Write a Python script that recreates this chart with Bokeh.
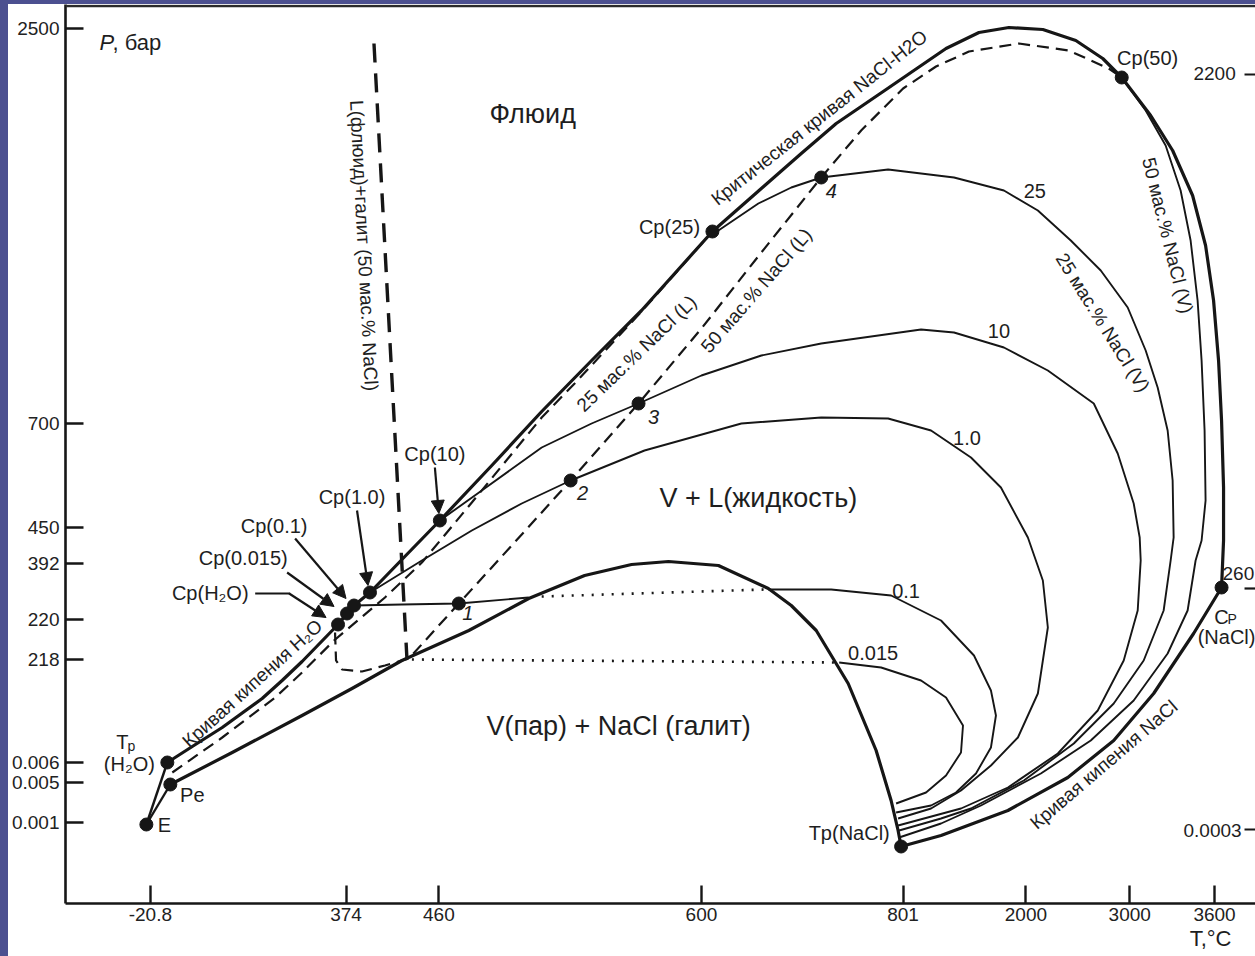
from bokeh.plotting import figure
from bokeh.models import (Range1d, FixedTicker, ColumnDataSource, Arrow, NormalHead, Span,
                          LinearAxis, Div)
from bokeh.layouts import row, column
from bokeh.core.properties import value
from bokeh.embed import file_html
from bokeh.resources import INLINE
import math

# ---------------- data (schematic diagram coordinates) ----------------
# axis ticks (schematic, non-linear axes)
x_tick_pos = [148, 344, 437, 700, 902, 1025, 1129, 1214]
x_tick_labels = ["-20.8", "374", "460", "600", "801", "2000", "3000", "3600"]
x_title_pos = [1210]
x_title = ["T,°C"]
y_tick_pos = [28, 423, 527, 563, 619, 659, 762, 782, 822]
y_tick_labels = ["2500", "700", "450", "392", "220", "218", "0.006", "0.005", "0.001"]
y2_tick_pos = [74, 588, 829]
y2_tick_labels = ["2200", "260", "0.0003"]

# invariant / critical points
pt_names = ["E", "Pe", "Tp(H2O)", "Cp(H2O)", "Cp(0.015)", "Cp(0.1)", "Cp(1.0)", "Cp(10)",
            "Cp(25)", "Cp(50)", "Cp(NaCl)", "Tp(NaCl)", "1", "2", "3", "4"]
pt_x = [144, 168, 165, 336, 345, 352, 368, 438, 711, 1121, 1221, 900, 457, 569, 637, 820]
pt_y = [824, 784, 762, 624, 613, 605, 592, 520, 231, 77, 587, 846, 603, 480, 403, 177]

# thick curves
crit_x = [336, 345, 352, 368, 400, 438, 490, 540, 590, 640, 711, 760, 800, 835, 885, 945, 978,
          1008, 1042, 1075, 1102, 1121, 1150, 1172, 1192, 1205, 1213, 1218, 1221, 1223, 1223, 1221]
crit_y = [624, 613, 605, 592, 559, 520, 465, 411, 360, 310, 231, 188, 153, 123, 89, 48, 32,
          27, 29, 40, 58, 77, 115, 150, 195, 245, 300, 360, 420, 487, 540, 587]
h2o_boil_x = [165, 190, 220, 260, 280, 300, 336]
h2o_boil_y = [762, 746, 727, 698, 680, 661, 624]
vlh_x = [168, 230, 300, 350, 400, 467, 527, 583, 630, 667, 717, 767, 790, 815, 847, 875, 890, 897, 900]
vlh_y = [784, 752, 715, 688, 660, 630, 598, 575, 564, 561, 565, 588, 605, 630, 683, 750, 800, 830, 846]
nacl_boil_x = [900, 940, 1007, 1067, 1113, 1153, 1193, 1221]
nacl_boil_y = [846, 835, 810, 777, 740, 693, 633, 587]
e_tp_x = [144, 165]
e_tp_y = [824, 762]
e_pe_x = [144, 168]
e_pe_y = [824, 784]

# isopleths (thin)
iso01_a_x = [352, 400, 457, 527]
iso01_a_y = [605, 604, 603, 597]
iso01_b_x = [767, 830, 890, 940, 973, 990, 995, 990, 975, 955, 930, 895]
iso01_b_y = [589, 589, 595, 620, 655, 690, 715, 747, 773, 792, 805, 812]
iso0015_x = [838, 880, 920, 945, 962, 960, 945, 925, 895]
iso0015_y = [662, 667, 680, 697, 725, 752, 775, 792, 803]
iso1_x = [368, 420, 470, 520, 569, 643, 740, 820, 887, 930, 970, 1000, 1027, 1042, 1047, 1037,
          1017, 990, 960, 930, 897]
iso1_y = [592, 560, 530, 503, 480, 450, 423, 417, 418, 430, 457, 487, 537, 580, 627, 693,
          737, 765, 790, 808, 818]
iso10_x = [438, 480, 540, 590, 637, 700, 760, 820, 920, 953, 1003, 1047, 1093, 1117, 1133, 1139,
           1140, 1137, 1123, 1097, 1057, 1007, 960, 897]
iso10_y = [520, 490, 447, 423, 403, 375, 355, 343, 329, 332, 347, 370, 403, 453, 503, 537,
           560, 610, 660, 710, 753, 787, 808, 825]
iso25_x = [711, 717, 757, 790, 820, 887, 953, 1003, 1037, 1070, 1100, 1127, 1145, 1157, 1167,
           1172, 1173, 1170, 1163, 1143, 1113, 1073, 1023, 970, 940, 898]
iso25_y = [231, 230, 203, 187, 177, 169, 177, 190, 210, 240, 270, 307, 350, 387, 430,
           480, 537, 560, 610, 660, 703, 743, 780, 808, 818, 830]
iso50_x = [1121, 1145, 1165, 1180, 1190, 1197, 1201, 1204, 1205, 1201, 1195, 1187, 1167, 1133,
           1090, 1040, 980, 940, 898]
iso50_y = [77, 110, 145, 190, 240, 300, 360, 430, 500, 540, 560, 610, 653, 700,
           740, 773, 805, 823, 837]

# dashed liquid isopleths and halite saturation line
l25_x = [170, 220, 273, 300, 332, 383, 420, 470, 540, 573, 640, 703, 711]
l25_y = [772, 737, 697, 672, 640, 597, 562, 502, 417, 383, 311, 240, 231]
l50_x = [333, 334, 340, 360, 383, 407, 457, 510, 569, 637, 700, 760, 820, 860, 902, 935, 968,
         1018, 1068, 1108, 1121]
l50_y = [632, 660, 669, 671, 665, 658, 603, 545, 480, 403, 328, 252, 177, 130, 88, 66, 51,
         43, 50, 68, 77]
halite_x = [372, 405]
halite_y = [43, 658]

# dotted three-phase segments
dot01_x = [540, 763]
dot01_y = [596, 589]
dot0015_x = [410, 835]
dot0015_y = [659, 662]

# ---------------- styling ----------------
FONT = "Liberation Sans"
INK = "#161616"
TXT = "#1e1e1e"
SLIDE = "#4c5090"

p = figure(width=1247, height=952, x_range=Range1d(63, 1255), y_range=Range1d(903, 4),
           output_backend="svg", toolbar_location=None, margin=0,
           min_border_left=55, min_border_bottom=53, min_border_top=0, min_border_right=0)
p.grid.visible = False
p.outline_line_color = None

for ax, pos, labs, so in ((p.xaxis[0], x_tick_pos, x_tick_labels, 4),
                          (p.yaxis[0], y_tick_pos, y_tick_labels, 6)):
    ax.ticker = FixedTicker(ticks=pos)
    ax.major_label_overrides = {k: v for k, v in zip(pos, labs)}
    ax.major_tick_in = 18
    ax.major_tick_out = 0
    ax.minor_tick_in = 0
    ax.minor_tick_out = 0
    ax.axis_line_width = 2.6
    ax.axis_line_color = INK
    ax.major_tick_line_width = 2.4
    ax.major_tick_line_color = INK
    ax.major_label_text_font = FONT
    ax.major_label_text_font_size = "19px"
    ax.major_label_text_color = "#222222"
    ax.major_label_standoff = so

# temperature title as a second (label-only) bottom axis
tax = LinearAxis(ticker=FixedTicker(ticks=x_title_pos),
                 major_label_overrides={k: v for k, v in zip(x_title_pos, x_title)},
                 axis_line_color=None, major_tick_line_color=None, minor_tick_line_color=None,
                 major_label_text_font=FONT, major_label_text_font_size="22px",
                 major_label_text_color=TXT, major_label_standoff=-4)
p.add_layout(tax, "below")

p.add_layout(Span(location=5.5, dimension="width", line_color="#2a2a2a", line_width=2.5))

# right-hand ticks (inside the frame)
p.segment(x0=[1244] * len(y2_tick_pos), y0=y2_tick_pos, x1=[1258] * len(y2_tick_pos), y1=y2_tick_pos,
          line_color=INK, line_width=2.2)

THICK, THIN = 3.2, 1.9
for xs, ys in ((crit_x, crit_y), (h2o_boil_x, h2o_boil_y), (vlh_x, vlh_y), (nacl_boil_x, nacl_boil_y)):
    p.line(xs, ys, line_color=INK, line_width=THICK, line_join="round")
for xs, ys in ((e_tp_x, e_tp_y), (e_pe_x, e_pe_y)):
    p.line(xs, ys, line_color=INK, line_width=2.4)
for xs, ys in ((iso01_a_x, iso01_a_y), (iso01_b_x, iso01_b_y), (iso0015_x, iso0015_y),
               (iso1_x, iso1_y), (iso10_x, iso10_y), (iso25_x, iso25_y), (iso50_x, iso50_y)):
    p.line(xs, ys, line_color=INK, line_width=THIN, line_join="round")
for xs, ys in ((l25_x, l25_y), (l50_x, l50_y)):
    p.line(xs, ys, line_color=INK, line_width=2.2, line_dash="12 7")
p.line(halite_x, halite_y, line_color=INK, line_width=3.4, line_dash="19 11")
for xs, ys in ((dot01_x, dot01_y), (dot0015_x, dot0015_y)):
    p.line(xs, ys, line_color=INK, line_width=2.6, line_dash="2 8")

p.scatter(pt_x, pt_y, size=13, color=INK)

# arrows to the critical points
arr = ColumnDataSource(dict(x0=[433, 355, 293, 285, 287], y0=[467, 510, 538, 572, 593],
                            x1=[437, 366, 344, 332, 324], y1=[513, 585, 598, 606, 617]))
p.add_layout(Arrow(x_start="x0", y_start="y0", x_end="x1", y_end="y1", source=arr,
                   line_color=INK, line_width=2.2,
                   end=NormalHead(size=13, fill_color=INK, line_color=INK)))
p.line([253, 288], [593, 593], line_color=INK, line_width=2.2)


def txt(xs, ys, texts, size="20px", angles=None, style="normal", align="center"):
    if angles is None:
        angles = [0.0] * len(xs)
    src = ColumnDataSource(dict(x=xs, y=ys, text=texts, angle=angles))
    p.text(x="x", y="y", text="text", angle="angle", source=src, text_font=value(FONT),
           text_font_size=size, text_font_style=style, text_align=align,
           text_baseline="middle", text_color=TXT)


txt([433, 350, 272, 241, 208, 668, 1147, 848, 162, 190, 127, 1226, 1034, 998, 966, 905, 872],
    [453, 496, 525, 557, 592, 226, 57, 832, 824, 794, 763, 636, 190, 330, 437, 590, 652],
    ["Cp(10)", "Cp(1.0)", "Cp(0.1)", "Cp(0.015)", "Cp(H₂O)", "Cp(25)", "Cp(50)", "Tp(NaCl)",
     "E", "Pe", "(H₂O)", "(NaCl)", "25", "10", "1.0", "0.1", "0.015"])
txt([466, 581, 652, 830], [612, 492, 416, 190], ["1", "2", "3", "4"], style="italic")
txt([531, 757, 617], [113, 497, 725], ["Флюид", "V + L(жидкость)", "V(пар) + NaCl (галит)"], size="27px")
txt([120, 1221], [741, 616], ["T", "C"])
txt([125, 1227], [745, 618], ["p", "P"], size="14px", align="left")
txt([97], [42], ["P"], size="22px", style="italic", align="left")
txt([110], [42], [", бар"], size="22px", align="left")
txt([1214, 1212], [73, 830], ["2200", "0.0003"], size="19px")
txt([1222], [573], ["260"], size="19px", align="left")

rot = [("Критическая кривая NaCl-H2O", 818, 117, 38.4),
       ("Кривая кипения H₂O", 250, 683, 42),
       ("Кривая кипения NaCl", 1103, 764, 40.6),
       ("L(флюид)+галит (50 мас.% NaCl)", 362, 245, -87),
       ("25 мас.% NaCl (L)", 635, 353, 44),
       ("50 мас.% NaCl (L)", 755, 290, 49),
       ("25 мас.% NaCl (V)", 1102, 322, -58),
       ("50 мас.% NaCl (V)", 1167, 235, -76)]
txt([r[1] for r in rot], [r[2] for r in rot], [r[0] for r in rot], size="19px",
    angles=[math.radians(r[3]) for r in rot])

left_strip = Div(text="", width=8, height=956, margin=0, styles={"background-color": SLIDE})
top_strip = Div(text="", width=1247, height=4, margin=0, styles={"background-color": SLIDE})
page = row(left_strip, column(top_strip, p, spacing=0), spacing=0)

open("out.html", "w").write(file_html(page, INLINE))
